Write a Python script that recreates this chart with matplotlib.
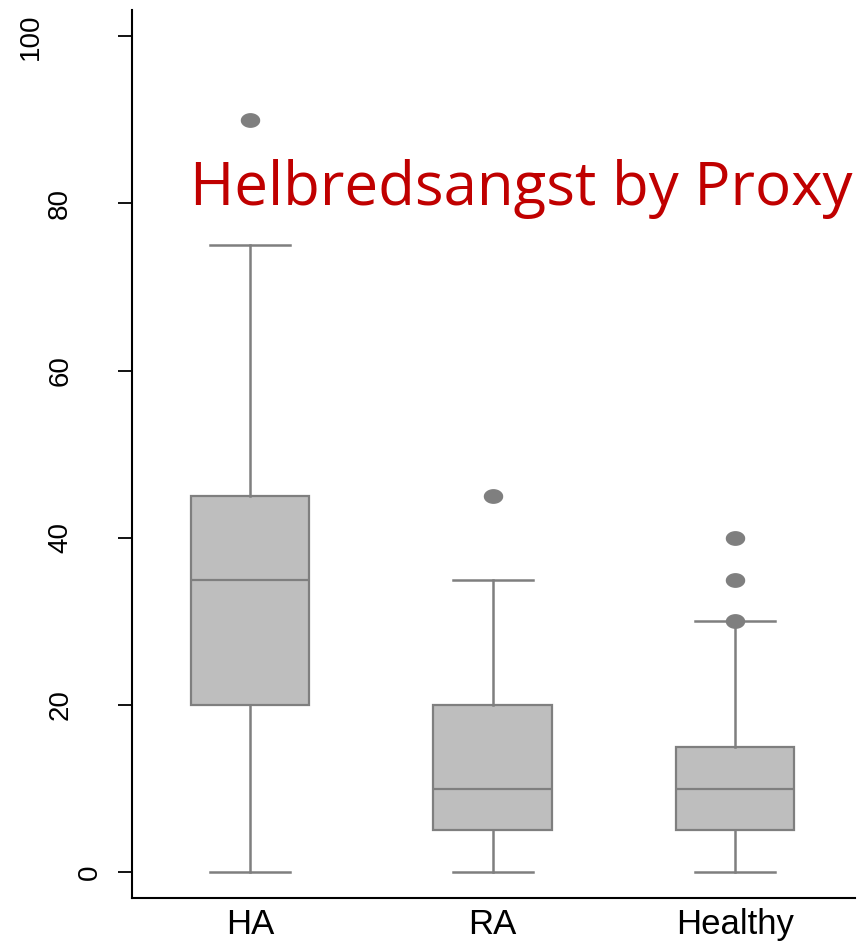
import numpy as np
import matplotlib.pyplot as plt
from matplotlib.path import Path

# Box summary per group
groups = ['HA', 'RA', 'Healthy']
whisker_low = [0, 0, 0]
q1 = [20, 5, 5]
median = [35, 10, 10]
q3 = [45, 20, 15]
whisker_high = [75, 35, 30]
outliers = [[90], [45], [30, 35, 40]]

y_ticks = [0, 20, 40, 60, 80, 100]
title_text = 'Helbredsangst by Proxy'

box_fill = '#bebebe'
line_gray = '#7f7f7f'

stats = []
for i, name in enumerate(groups):
    stats.append({
        'label': name,
        'whislo': whisker_low[i],
        'q1': q1[i],
        'med': median[i],
        'q3': q3[i],
        'whishi': whisker_high[i],
        'fliers': outliers[i],
    })

# slightly wide ellipse marker (the original is horizontally stretched)
t = np.linspace(0, 2 * np.pi, 60)
ellipse = Path(np.column_stack([1.35 * np.cos(t), np.sin(t)]))

fig = plt.figure(figsize=(8.61, 9.41), dpi=100)
ax = fig.add_axes([0.1533, 0.0457, 0.8397, 0.9433])

ax.bxp(stats, positions=[1, 2, 3], widths=0.49, patch_artist=True,
       boxprops=dict(facecolor=box_fill, edgecolor=line_gray, linewidth=1.6),
       medianprops=dict(color=line_gray, linewidth=1.6),
       whiskerprops=dict(color=line_gray, linewidth=1.8),
       capprops=dict(color=line_gray, linewidth=1.8),
       capwidths=0.33,
       flierprops=dict(marker=ellipse, markersize=13, markerfacecolor=line_gray,
                       markeredgecolor=line_gray))

ax.set_xlim(0.513, 3.495)
ax.set_ylim(-3.1, 103.1)
ax.set_xticks([1, 2, 3])
ax.set_xticklabels(groups, fontsize=25, family='Liberation Sans')

# y labels: rotated, and shifted left the longer they are (as in the original)
ax.set_yticks(y_ticks)
ax.set_yticklabels([])
ytrans = ax.get_yaxis_transform()
for v in y_ticks:
    s = str(v)
    xpos = -0.0588 - 0.0405 * (len(s) - 1)
    ax.text(xpos, v, s, rotation=90, ha='center', va='center',
            fontsize=20, family='Liberation Sans', transform=ytrans,
            clip_on=False)

ax.spines['top'].set_visible(False)
ax.spines['right'].set_visible(False)
ax.spines['left'].set_linewidth(1.5)
ax.spines['bottom'].set_linewidth(1.5)
ax.tick_params(axis='y', length=10, width=1.3)
ax.tick_params(axis='x', length=0, pad=7)

ax.text(0.752, 79.8, title_text, color='#c00000', fontsize=43.2,
        family='Open Sans', va='baseline', ha='left')

fig.savefig('out.png', dpi=100)
